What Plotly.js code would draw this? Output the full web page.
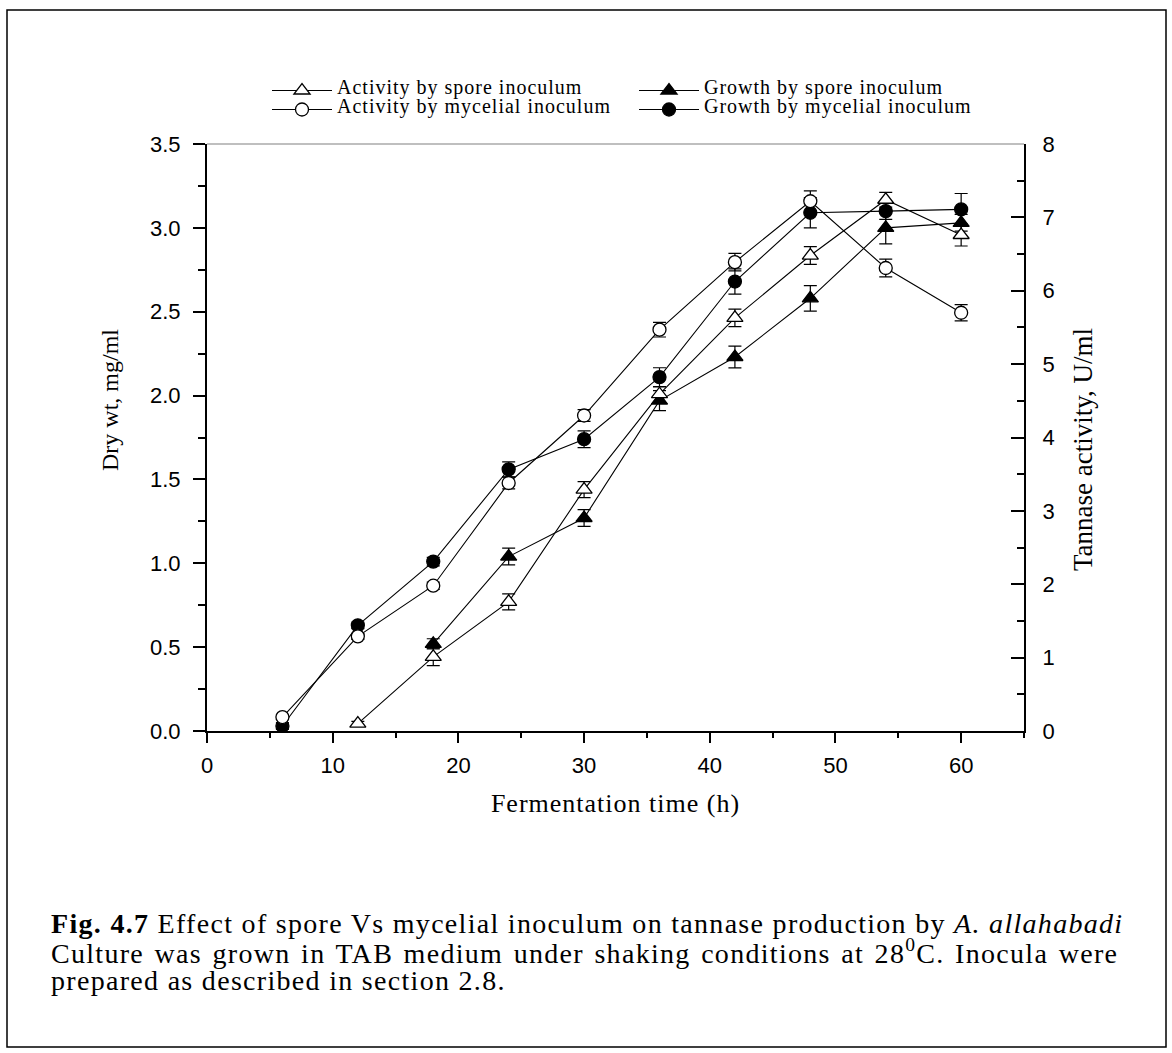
<!DOCTYPE html>
<html>
<head>
<meta charset="utf-8">
<script src="https://cdn.plot.ly/plotly-3.0.1.min.js"></script>
<style>html,body{margin:0;padding:0;background:#fff;}#chart{width:1172px;height:1053px;}</style>
</head>
<body>
<div id="chart"></div>
<script>
// ---- data ----
const timeAll = [6, 12, 18, 24, 30, 36, 42, 48, 54, 60];
const timeSporeActivity = [12, 18, 24, 30, 36, 42, 48, 54, 60];
const timeSporeGrowth = [18, 24, 30, 36, 42, 48, 54, 60];

// Tannase activity, U/ml (right axis)
const activitySpore    = [0.10, 1.01, 1.76, 3.29, 4.59, 5.63, 6.48, 7.24, 6.76];
const activitySporeErr = [0.03, 0.12, 0.11, 0.11, 0.10, 0.12, 0.12, 0.10, 0.15];
const activityMycelial    = [0.19, 1.29, 1.98, 3.38, 4.30, 5.47, 6.39, 7.22, 6.31, 5.70];
const activityMycelialErr = [0.03, 0.04, 0.05, 0.08, 0.08, 0.10, 0.12, 0.14, 0.12, 0.11];

// Dry wt, mg/ml (left axis)
const growthSpore    = [0.52, 1.04, 1.27, 1.97, 2.23, 2.58, 3.00, 3.03];
const growthSporeErr = [0.03, 0.05, 0.05, 0.06, 0.065, 0.076, 0.095, 0.05];
const growthMycelial    = [0.03, 0.63, 1.01, 1.56, 1.74, 2.11, 2.68, 3.09, 3.10, 3.11];
const growthMycelialErr = [0.02, 0.02, 0.025, 0.045, 0.05, 0.056, 0.075, 0.09, 0.05, 0.095];

const seriesNames = ['Activity by spore inoculum', 'Activity by mycelial inoculum',
                     'Growth by spore inoculum', 'Growth by mycelial inoculum'];
const xTitle = 'Fermentation time (h)';
const yLeftTitle = 'Dry wt, mg/ml';
const yRightTitle = 'Tannase activity, U/ml';
const captionLines = [
  '<b>Fig. 4.7</b> Effect of spore Vs mycelial inoculum on tannase production by <i>A. allahabadi</i>',
  'Culture was grown in TAB medium under shaking conditions at 28<sup>0</sup>C. Inocula were',
  'prepared as described in section 2.8.'
];

// ---- layout helpers ----
const W = 1172, H = 1053;
const PL = 207, PR = 1024, PT = 144, PB = 731;
const px = x => (x - PL) / (PR - PL);
const py = y => (PB - y) / (PB - PT);
const SERIF = 'Liberation Serif, Times New Roman, serif';
const SANS = 'Liberation Sans, Arial, sans-serif';
const styled = (s, css) => '<span style="' + css + '">' + s + '</span>';

function series(x, y, err, name, symbol, fill, yaxis, legend) {
  return {
    x: x, y: y, name: styled(name, 'font-size:20px;letter-spacing:1px'), yaxis: yaxis, legend: legend,
    type: 'scatter', mode: 'lines+markers',
    line: {color: '#000', width: 1.1},
    marker: {symbol: symbol, size: symbol === 'circle' ? 13 : 14, color: fill,
             line: {color: '#000', width: 1.3}},
    error_y: {type: 'data', array: err, visible: true, color: '#000', thickness: 1.2, width: 6.5},
    cliponaxis: false
  };
}

const data = [
  series(timeSporeGrowth, growthSpore, growthSporeErr, seriesNames[2], 'triangle-up', '#000', 'y', 'legend2'),
  series(timeAll, growthMycelial, growthMycelialErr, seriesNames[3], 'circle', '#000', 'y', 'legend2'),
  series(timeSporeActivity, activitySpore, activitySporeErr, seriesNames[0], 'triangle-up', '#fff', 'y2', 'legend'),
  series(timeAll, activityMycelial, activityMycelialErr, seriesNames[1], 'circle', '#fff', 'y2', 'legend')
];

const tickFont = {family: SANS, size: 22, color: '#000'};

const legendBase = {
  xref: 'paper', yref: 'paper', xanchor: 'left', yanchor: 'top', orientation: 'v', traceorder: 'normal',
  font: {family: SERIF, size: 10, color: '#000'}, bgcolor: 'rgba(0,0,0,0)', borderwidth: 0,
  tracegroupgap: 0, itemwidth: 60
};

const captionCss = ['letter-spacing:1.3px', 'letter-spacing:1.3px;word-spacing:2.2px', 'letter-spacing:1.3px'];

const layout = {
  width: W, height: H,
  paper_bgcolor: '#fff', plot_bgcolor: '#fff',
  margin: {l: PL, r: W - PR, t: PT, b: H - PB, pad: 0},
  showlegend: true,
  xaxis: {
    range: [0, 65], dtick: 10, tick0: 0, showgrid: false, zeroline: false,
    showline: true, linecolor: '#000', linewidth: 2,
    ticks: 'outside', ticklen: 10, tickwidth: 2, tickcolor: '#000',
    minor: {dtick: 5, ticks: 'outside', ticklen: 5, tickwidth: 2, tickcolor: '#000', showgrid: false},
    tickfont: tickFont, ticklabelstandoff: 4, tickangle: 0,
    title: {text: styled(xTitle, 'letter-spacing:1px'), font: {family: SERIF, size: 26, color: '#000'}, standoff: 16},
    automargin: false
  },
  yaxis: {
    range: [0, 3.5], dtick: 0.5, tick0: 0, tickformat: '.1f', showgrid: false, zeroline: false,
    showline: true, linecolor: '#000', linewidth: 2,
    ticks: 'outside', ticklen: 12, tickwidth: 2, tickcolor: '#000',
    minor: {dtick: 0.25, ticks: 'outside', ticklen: 7, tickwidth: 2, tickcolor: '#000', showgrid: false},
    tickfont: tickFont, ticklabelstandoff: 8,
    automargin: false
  },
  yaxis2: {
    range: [0, 8], dtick: 1, tick0: 0, overlaying: 'y', side: 'right', showgrid: false, zeroline: false,
    showline: true, linecolor: '#000', linewidth: 2,
    ticks: 'inside', ticklen: 13, tickwidth: 2, tickcolor: '#000',
    minor: {dtick: 0.5, ticks: 'inside', ticklen: 7, tickwidth: 2, tickcolor: '#000', showgrid: false},
    tickfont: tickFont, ticklabelstandoff: 12,
    automargin: false
  },
  legend: Object.assign({}, legendBase, {x: px(267), y: py(76)}),
  legend2: Object.assign({}, legendBase, {x: px(634), y: py(76)}),
  shapes: [
    {type: 'rect', xref: 'paper', yref: 'paper', x0: px(7), x1: px(1166), y0: py(10), y1: py(1047),
     line: {color: '#000', width: 1.5}, fillcolor: 'rgba(0,0,0,0)', layer: 'below'},
    {type: 'line', xref: 'paper', yref: 'paper', x0: 0, x1: 1, y0: 1, y1: 1,
     line: {color: '#808080', width: 1.2}}
  ],
  annotations: [
    {text: yLeftTitle, xref: 'paper', yref: 'paper', x: px(110), y: py(400), textangle: -90,
     xanchor: 'center', yanchor: 'middle', showarrow: false,
     font: {family: SERIF, size: 24, color: '#000'}},
    {text: yRightTitle, xref: 'paper', yref: 'paper', x: px(1083), y: py(450), textangle: -90,
     xanchor: 'center', yanchor: 'middle', showarrow: false,
     font: {family: SERIF, size: 27, color: '#000'}}
  ].concat(captionLines.map((t, i) => ({
    text: styled(t, captionCss[i]), xref: 'paper', yref: 'paper', x: px(49), y: py(923 + i * 28.5),
    xanchor: 'left', yanchor: 'middle', showarrow: false, align: 'left',
    font: {family: SERIF, size: 28, color: '#000'}
  })))
};

Plotly.newPlot('chart', data, layout, {displayModeBar: false, staticPlot: true});
</script>
</body>
</html>
